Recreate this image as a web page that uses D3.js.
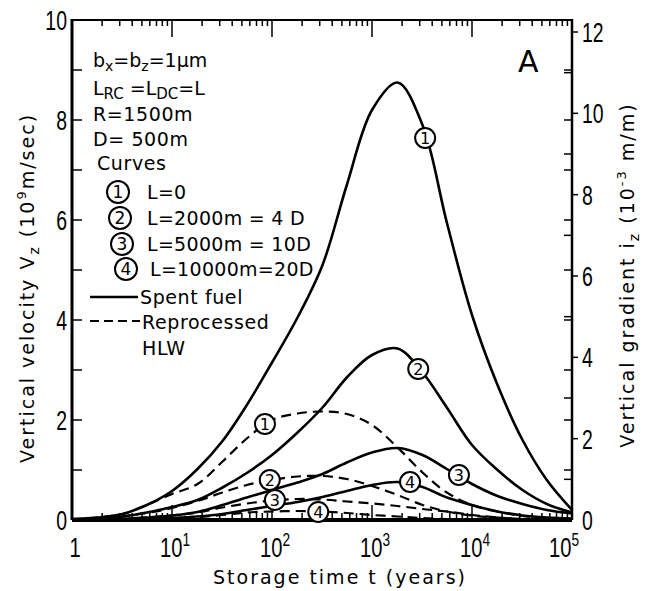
<!DOCTYPE html>
<html>
<head>
<meta charset="utf-8">
<script src="https://cdn.jsdelivr.net/npm/d3@7"></script>
<style>
  body { margin: 0; background: #fff; }
  svg { display: block; }
</style>
</head>
<body>
<svg></svg>
<script>
// storage time (years), read at quarter-decade steps
var times = [1, 1.8, 3.2, 5.6, 10, 18, 32, 56, 100, 180, 320, 560, 1000, 1800, 3200, 5600, 10000, 18000, 32000, 56000, 100000]

// vertical velocity (10^9 m/sec) - spent fuel (solid)
var spent1 = [0.02, 0.05, 0.12, 0.3, 0.58, 1.02, 1.58, 2.3, 3.15, 4.05, 5.1, 6.7, 8.2, 8.75, 7.9, 5.95, 4.1, 2.7, 1.6, 0.8, 0.2]
var spent2 = [0.01, 0.03, 0.07, 0.15, 0.26, 0.4, 0.65, 0.94, 1.3, 1.75, 2.25, 2.85, 3.3, 3.43, 2.95, 2.25, 1.5, 1.0, 0.6, 0.32, 0.15]
var spent3 = [0.005, 0.01, 0.02, 0.05, 0.09, 0.16, 0.3, 0.45, 0.6, 0.75, 0.92, 1.15, 1.35, 1.44, 1.3, 1.02, 0.72, 0.48, 0.32, 0.2, 0.13]
var spent4 = [0, 0.005, 0.01, 0.02, 0.04, 0.07, 0.12, 0.2, 0.28, 0.36, 0.46, 0.58, 0.7, 0.76, 0.66, 0.45, 0.3, 0.17, 0.09, 0.05, 0.03]

// reprocessed HLW (dashed)
var hlw1 = [0.02, 0.05, 0.12, 0.3, 0.52, 0.72, 1.17, 1.63, 2.0, 2.13, 2.17, 2.12, 1.9, 1.45, 0.95, 0.55, 0.3, 0.17, 0.08, 0.03, 0.01]
var hlw2 = [0.01, 0.03, 0.07, 0.14, 0.24, 0.38, 0.55, 0.7, 0.8, 0.87, 0.88, 0.82, 0.68, 0.5, 0.3, 0.17, 0.09, 0.05, 0.02, 0.01, 0]
var hlw3 = [0, 0.01, 0.02, 0.05, 0.09, 0.15, 0.25, 0.33, 0.39, 0.42, 0.41, 0.37, 0.33, 0.28, 0.22, 0.17, 0.1, 0.05, 0.02, 0.01, 0]
var hlw4 = [0, 0, 0.01, 0.02, 0.03, 0.06, 0.1, 0.15, 0.17, 0.18, 0.17, 0.14, 0.1, 0.07, 0.04, 0.02, 0.01, 0, 0, 0, 0]

// circled curve numbers: [curve number, time, velocity]
var solidMarks = [[1, 3400, 7.64], [2, 2900, 3.02], [3, 7400, 0.9], [4, 2400, 0.76]]
var dashMarks = [[1, 85, 1.92], [2, 95, 0.8], [3, 107, 0.4], [4, 290, 0.16]]

var xDecades = [1, 10, 100, 1000, 10000, 100000]
var xLabels = [['1', ''], ['10', '1'], ['10', '2'], ['10', '3'], ['10', '4'], ['10', '5']]
var leftTicks = [0, 2, 4, 6, 8, 10]
var rightTicks = [0, 2, 4, 6, 8, 10, 12]

var width = 652
var height = 591
// note: "top" is reserved on window, so use plot* names
var plotL = 72, plotR = 572, plotT = 20, plotB = 520

var svg = d3.select('svg').attr('width', width).attr('height', height)

var x = d3.scaleLog().domain([1, 100000]).range([plotL, plotR])
var y = d3.scaleLinear().domain([0, 10]).range([plotB, plotT])
var y2 = d3.scaleLinear().domain([0, 12]).range([plotB, 32])

var narrow = '"Liberation Sans", Arial, sans-serif'
var plain = '"DejaVu Sans", Verdana, sans-serif'

/* axes: ticks point into the plot */
var ax = svg.append('g').attr('stroke', '#000').attr('fill', 'none')

// bottom and top log axes
var minor = []
for (var d = 1; d < 100000; d *= 10) {
  for (var k = 2; k < 10; k++) minor.push(d * k)
}
ax.selectAll('.tmin').data(minor).enter().append('line')
  .attr('x1', function (t) { return x(t) }).attr('x2', function (t) { return x(t) })
  .attr('y1', plotT).attr('y2', plotT + 6).attr('stroke-width', 1.5)
ax.selectAll('.tmaj').data(xDecades).enter().append('line')
  .attr('x1', function (t) { return x(t) }).attr('x2', function (t) { return x(t) })
  .attr('y1', plotT).attr('y2', plotT + 17).attr('stroke-width', 1.5)
ax.selectAll('.bmin').data(minor).enter().append('line')
  .attr('x1', function (t) { return x(t) }).attr('x2', function (t) { return x(t) })
  .attr('y1', plotB).attr('y2', plotB - 7).attr('stroke-width', 1.5)
ax.selectAll('.bmaj').data(xDecades).enter().append('line')
  .attr('x1', function (t) { return x(t) }).attr('x2', function (t) { return x(t) })
  .attr('y1', plotB).attr('y2', plotB - 15).attr('stroke-width', 1.5)

// left axis ticks (every unit), mirrored on the right axis
var units = d3.range(1, 10)
ax.selectAll('.lt').data(units).enter().append('line')
  .attr('x1', plotL).attr('x2', plotL + 10)
  .attr('y1', function (v) { return y(v) }).attr('y2', function (v) { return y(v) })
  .attr('stroke-width', 1.5)
ax.selectAll('.rt').data(units).enter().append('line')
  .attr('x1', plotR).attr('x2', plotR - 8)
  .attr('y1', function (v) { return y(v) }).attr('y2', function (v) { return y(v) })
  .attr('stroke-width', 1.5)

// right gradient axis: odd values inward, even values outward with labels
var odd = [1, 3, 5, 7, 9, 11]
ax.selectAll('.ro').data(odd).enter().append('line')
  .attr('x1', plotR).attr('x2', plotR - 8)
  .attr('y1', function (v) { return y2(v) }).attr('y2', function (v) { return y2(v) })
  .attr('stroke-width', 1.5)
ax.selectAll('.re').data(rightTicks.slice(1)).enter().append('line')
  .attr('x1', plotR).attr('x2', plotR + 6)
  .attr('y1', function (v) { return y2(v) }).attr('y2', function (v) { return y2(v) })
  .attr('stroke-width', 1.5)

// frame
ax.append('line').attr('x1', plotL).attr('x2', plotR).attr('y1', plotT).attr('y2', plotT).attr('stroke-width', 2)
ax.append('line').attr('x1', plotL).attr('x2', plotL).attr('y1', plotT - 1).attr('y2', plotB).attr('stroke-width', 3)
ax.append('line').attr('x1', plotR).attr('x2', plotR).attr('y1', plotT - 1).attr('y2', plotB).attr('stroke-width', 2.5)
ax.append('line').attr('x1', plotL).attr('x2', plotR).attr('y1', plotB).attr('y2', plotB).attr('stroke-width', 4)

/* tick labels (condensed lettering) */
svg.append('g').selectAll('text').data(leftTicks).enter().append('text')
  .attr('transform', function (v) { return 'translate(' + (plotL - 5) + ',' + (y(v) + 10) + ') scale(0.72,1)' })
  .attr('text-anchor', 'end')
  .attr('font-family', narrow).attr('font-size', 27)
  .text(function (v) { return v })

svg.append('g').selectAll('text').data(rightTicks).enter().append('text')
  .attr('transform', function (v) { return 'translate(' + (plotR + 10) + ',' + (y2(v) + 10) + ') scale(0.72,1)' })
  .attr('font-family', narrow).attr('font-size', 27)
  .text(function (v) { return v })

// last decade label sits left of its tick so it clears the right-axis "0"
var xl = svg.append('g').selectAll('text').data(xDecades).enter().append('text')
  .attr('transform', function (t, i) {
    var dx = i === xDecades.length - 1 ? -8 : 3
    return 'translate(' + (x(t) + dx) + ',557) scale(0.72,1)'
  })
  .attr('text-anchor', 'middle')
  .attr('font-family', narrow).attr('font-size', 28)
xl.append('tspan').text(function (t, i) { return xLabels[i][0] })
xl.append('tspan').attr('dy', -11).attr('font-size', 19)
  .text(function (t, i) { return xLabels[i][1] })

/* axis titles */
svg.append('text').attr('x', 340).attr('y', 584).attr('text-anchor', 'middle')
  .attr('font-family', plain).attr('font-size', 19).attr('letter-spacing', 2)
  .text('Storage time t (years)')

var lt = svg.append('text')
  .attr('transform', 'translate(34,288) rotate(-90)')
  .attr('text-anchor', 'middle')
  .attr('font-family', plain).attr('font-size', 19).attr('letter-spacing', 2)
lt.append('tspan').text('Vertical velocity V')
lt.append('tspan').attr('font-size', 14).attr('dy', 5).text('z')
lt.append('tspan').attr('dy', -5).text(' (10')
lt.append('tspan').attr('font-size', 13).attr('dy', -8).text('9')
lt.append('tspan').attr('dy', 8).text('m/sec)')

var rt = svg.append('text')
  .attr('transform', 'translate(634,275) rotate(-90)')
  .attr('text-anchor', 'middle')
  .attr('font-family', plain).attr('font-size', 19).attr('letter-spacing', 2)
rt.append('tspan').text('Vertical gradient i')
rt.append('tspan').attr('font-size', 14).attr('dy', 5).text('z')
rt.append('tspan').attr('dy', -5).text('  (10')
rt.append('tspan').attr('font-size', 13).attr('dy', -8).text('-3')
rt.append('tspan').attr('dy', 8).text(' m/m)')

svg.append('text').attr('x', 518).attr('y', 72)
  .attr('font-family', plain).attr('font-size', 30).text('A')

/* curves */
var line = d3.line()
  .x(function (v, i) { return x(times[i]) })
  .y(function (v) { return y(v) })
  .curve(d3.curveCatmullRom.alpha(0.5))

var curves = [
  { values: spent1, dash: null }, { values: spent2, dash: null },
  { values: spent3, dash: null }, { values: spent4, dash: null },
  { values: hlw1, dash: '10,6' }, { values: hlw2, dash: '10,6' },
  { values: hlw3, dash: '10,6' }, { values: hlw4, dash: '10,6' }
]

svg.append('g').selectAll('path').data(curves).enter().append('path')
  .attr('d', function (c) { return line(c.values) })
  .attr('fill', 'none').attr('stroke', '#000')
  .attr('stroke-width', function (c) { return c.dash ? 2.2 : 2.6 })
  .attr('stroke-dasharray', function (c) { return c.dash })

/* circled numbers on the curves */
var marks = svg.append('g').selectAll('g').data(solidMarks.concat(dashMarks)).enter().append('g')
  .attr('transform', function (m) { return 'translate(' + x(m[1]) + ',' + y(m[2]) + ')' })
marks.append('circle').attr('r', 10).attr('fill', '#fff').attr('stroke', '#000').attr('stroke-width', 2)
marks.append('text').attr('text-anchor', 'middle').attr('y', 6)
  .attr('font-family', plain).attr('font-size', 16)
  .text(function (m) { return m[0] })

/* legend / parameters */
var lg = svg.append('g').attr('font-family', plain).attr('font-size', 19)

var t1 = lg.append('text').attr('x', 93).attr('y', 67)
t1.append('tspan').text('b')
t1.append('tspan').attr('font-size', 14).attr('dy', 4).text('x')
t1.append('tspan').attr('dy', -4).text('=b')
t1.append('tspan').attr('font-size', 14).attr('dy', 4).text('z')
t1.append('tspan').attr('dy', -4).text('=1\u03bcm')

var t2 = lg.append('text').attr('x', 93).attr('y', 95)
t2.append('tspan').text('L')
t2.append('tspan').attr('font-size', 15).attr('dy', 4).text('RC')
t2.append('tspan').attr('dy', -4).text(' =L')
t2.append('tspan').attr('font-size', 15).attr('dy', 4).text('DC')
t2.append('tspan').attr('dy', -4).text('=L')

var plainLines = [['R=1500m', 121], ['D= 500m', 146], ['Curves', 170]]
lg.selectAll('.pl').data(plainLines).enter().append('text')
  .attr('x', function (d, i) { return i === 2 ? 97 : 93 }).attr('y', function (d) { return d[1] })
  .attr('letter-spacing', 0.6)
  .text(function (d) { return d[0] })

var curveLegend = [
  [1, 'L=0', 118, 192],
  [2, 'L=2000m = 4 D', 120, 218],
  [3, 'L=5000m = 10D', 122, 244],
  [4, 'L=10000m=20D', 126, 269]
]
var cl = lg.selectAll('.cl').data(curveLegend).enter().append('g')
cl.append('circle')
  .attr('cx', function (d) { return d[2] }).attr('cy', function (d) { return d[3] })
  .attr('r', 11).attr('fill', '#fff').attr('stroke', '#000').attr('stroke-width', 2)
cl.append('text')
  .attr('x', function (d) { return d[2] }).attr('y', function (d) { return d[3] + 6 })
  .attr('text-anchor', 'middle').attr('font-size', 17)
  .text(function (d) { return d[0] })
cl.append('text')
  .attr('x', function (d) { return d[0] === 4 ? 150 : 147 }).attr('y', function (d) { return d[3] + 7 })
  .attr('letter-spacing', 0.3)
  .text(function (d) { return d[1] })

lg.append('line').attr('x1', 90).attr('x2', 138).attr('y1', 297).attr('y2', 297)
  .attr('stroke', '#000').attr('stroke-width', 2.6)
lg.append('text').attr('x', 140).attr('y', 304).attr('letter-spacing', 0.6).text('Spent fuel')
lg.append('line').attr('x1', 90).attr('x2', 140).attr('y1', 321).attr('y2', 321)
  .attr('stroke', '#000').attr('stroke-width', 2.2).attr('stroke-dasharray', '9,5')
lg.append('text').attr('x', 142).attr('y', 329).attr('letter-spacing', 0.6).text('Reprocessed')
lg.append('text').attr('x', 142).attr('y', 355).attr('letter-spacing', 0.6).text('HLW')
</script>
</body>
</html>
